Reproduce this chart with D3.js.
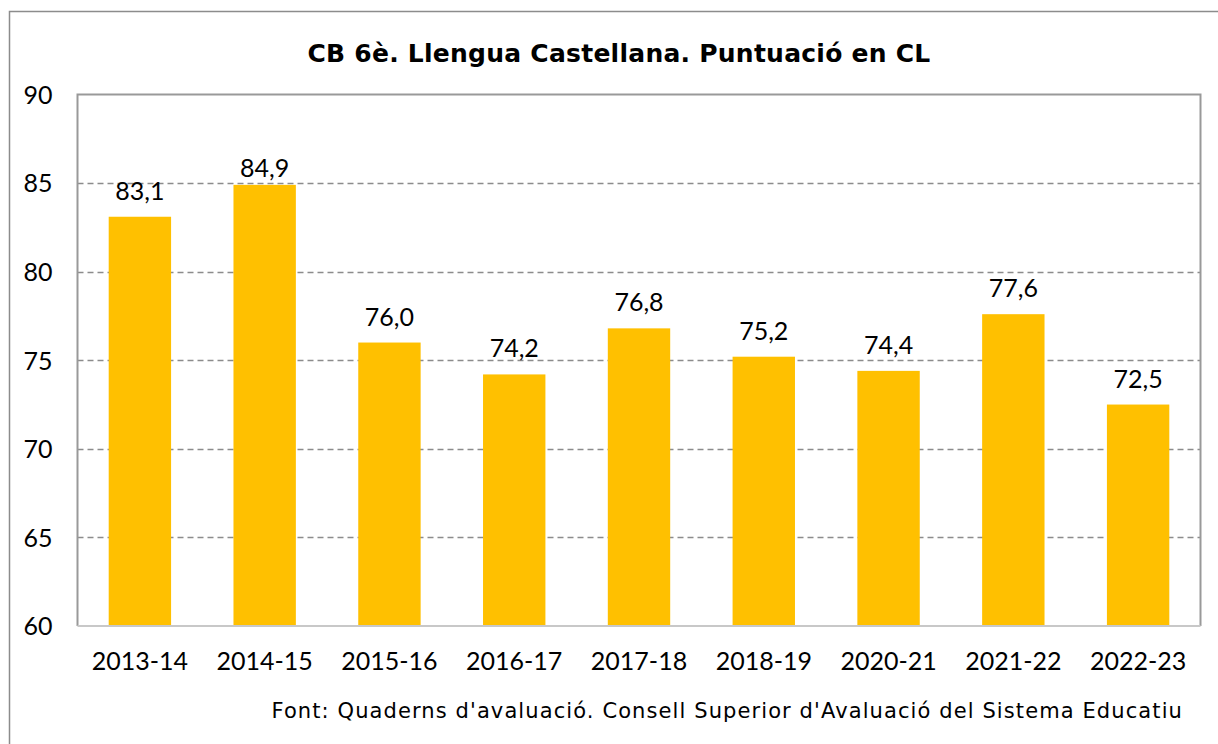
<!DOCTYPE html>
<html>
<head>
<meta charset="utf-8">
<script src="https://cdn.jsdelivr.net/npm/d3@7"></script>
<style>
  html, body { margin: 0; padding: 0; background: #fff; }
  svg { display: block; }
  text { font-family: "Century Gothic", "Lato", "Noto Sans", sans-serif; fill: #000; }
  .wide { font-family: "Century Gothic", "DejaVu Sans", sans-serif; }
</style>
</head>
<body>
<svg id="chart" width="1218" height="744"></svg>
<script>
const categories = ["2013-14", "2014-15", "2015-16", "2016-17", "2017-18", "2018-19", "2020-21", "2021-22", "2022-23"];
const values = [83.1, 84.9, 76.0, 74.2, 76.8, 75.2, 74.4, 77.6, 72.5];
const yTicks = [60, 65, 70, 75, 80, 85, 90];
const title = "CB 6è. Llengua Castellana. Puntuació en CL";
const source = "Font: Quaderns d'avaluació. Consell Superior d'Avaluació del Sistema Educatiu";

const W = 1218, H = 744;
const plot = { left: 77.5, right: 1200.5, top: 94.5, bottom: 626 };
const svg = d3.select("#chart");

// outer frame
svg.append("rect")
  .attr("x", 9.5).attr("y", 11.5)
  .attr("width", W + 10).attr("height", H + 10)
  .attr("fill", "none").attr("stroke", "#8c8c8c").attr("stroke-width", 1.5);

const x = d3.scaleBand().domain(categories).range([plot.left, plot.right]).paddingInner(0.5).paddingOuter(0.25);
const y = d3.scaleLinear().domain([60, 90]).range([plot.bottom, plot.top]);

// gridlines
svg.append("g").selectAll("line")
  .data(yTicks.filter(t => t > 60 && t < 90))
  .join("line")
  .attr("x1", plot.left).attr("x2", plot.right)
  .attr("y1", d => Math.round(y(d)) + 0.5).attr("y2", d => Math.round(y(d)) + 0.5)
  .attr("stroke", "#8c8c8c").attr("stroke-width", 1.5)
  .attr("stroke-dasharray", "6,4");

// bars
svg.append("g").selectAll("rect")
  .data(values)
  .join("rect")
  .attr("x", (d, i) => x(categories[i]))
  .attr("width", x.bandwidth())
  .attr("y", d => y(d))
  .attr("height", d => y(60) - y(d))
  .attr("fill", "#ffc000");

// plot border (top, left, right)
svg.append("path")
  .attr("d", `M${plot.left},${plot.bottom}V${plot.top}H${plot.right}V${plot.bottom}`)
  .attr("fill", "none").attr("stroke", "#999").attr("stroke-width", 2);
// bottom axis line
svg.append("line")
  .attr("x1", plot.left).attr("x2", plot.right)
  .attr("y1", plot.bottom).attr("y2", plot.bottom)
  .attr("stroke", "#c8c8c8").attr("stroke-width", 2);

// y axis
const yAxis = d3.axisLeft(y).tickValues(yTicks).tickSize(0).tickPadding(0).tickFormat(d3.format("d"));
const yg = svg.append("g").attr("transform", `translate(${plot.left - 25},0)`).call(yAxis);
yg.select(".domain").remove();
yg.selectAll("text").attr("font-size", 25).attr("font-family", null).attr("dy", "0.35em");

// x axis
const xAxis = d3.axisBottom(x).tickSize(0).tickPadding(0);
const xg = svg.append("g").attr("transform", `translate(0,${plot.bottom + 44})`).call(xAxis);
xg.select(".domain").remove();
xg.selectAll("text").attr("font-size", 25).attr("font-family", null).attr("dy", "0");

// value labels
const fmt = v => d3.format(".1f")(v).replace(".", ",");
svg.append("g").selectAll("text")
  .data(values)
  .join("text")
  .attr("x", (d, i) => x(categories[i]) + x.bandwidth() / 2)
  .attr("y", d => y(d) - (d === d3.max(values) ? 8 : 17))
  .attr("text-anchor", "middle")
  .attr("font-size", 25)
  .text(fmt);

// title
svg.append("text")
  .attr("class", "wide")
  .attr("x", 619).attr("y", 62)
  .attr("text-anchor", "middle")
  .attr("font-size", 25).attr("font-weight", "bold")
  .attr("letter-spacing", 0.25)
  .text(title);

// source
svg.append("text")
  .attr("class", "wide")
  .attr("x", 1183).attr("y", 718)
  .attr("text-anchor", "end")
  .attr("font-size", 21)
  .attr("letter-spacing", 1.1)
  .text(source);
</script>
</body>
</html>
